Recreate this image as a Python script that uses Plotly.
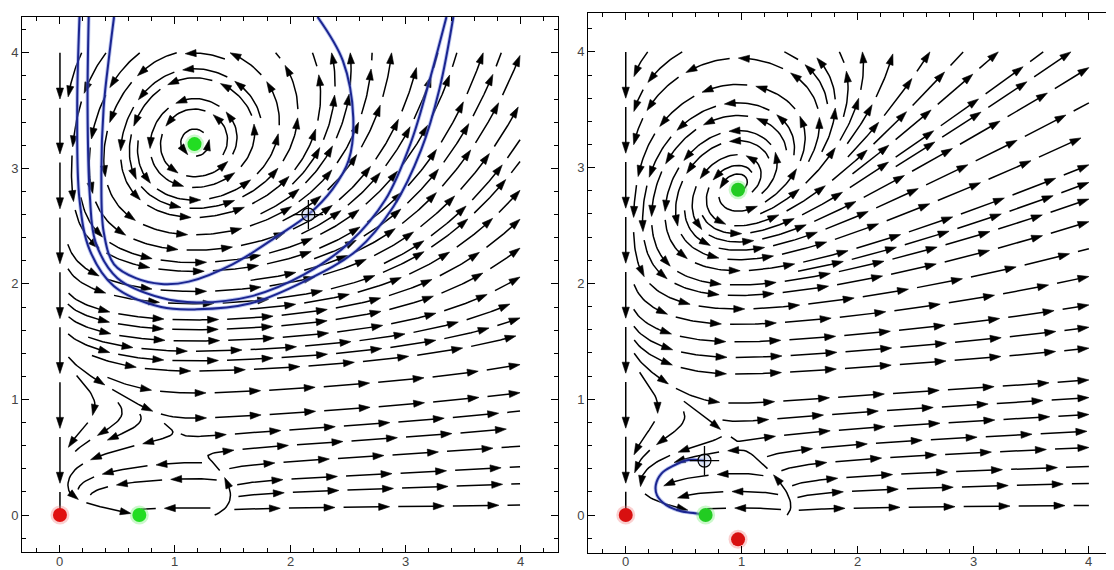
import math
import numpy as np
import plotly.graph_objects as go

# ---------------- values ----------------
tick_vals = [0, 1, 2, 3, 4]
tick_text = ["0", "1", "2", "3", "4"]

# equilibria
left_green_x = [0.69, 1.17]
left_green_y = [0.00, 3.21]
left_red_x = [0.00]
left_red_y = [0.00]
right_green_x = [0.69, 0.97]
right_green_y = [0.00, 2.81]
right_red_x = [0.00, 0.97]
right_red_y = [0.00, -0.21]

# starting points (cross-hair markers)
left_start_x = [2.16]
left_start_y = [2.60]
right_start_x = [0.68]
right_start_y = [0.47]

# highlighted (blue) trajectories
left_inner_x = [2.24, 2.46, 2.55, 2.51, 2.37, 2.16, 1.90, 1.50, 1.12, 0.88, 0.66, 0.47, 0.38, 0.36, 0.38, 0.43, 0.47]
left_inner_y = [4.31, 3.93, 3.44, 3.07, 2.82, 2.60, 2.42, 2.17, 2.02, 2.00, 2.05, 2.17, 2.45, 2.91, 3.53, 3.99, 4.31]
left_outer_a_x = [0.25, 0.24, 0.26, 0.31, 0.50, 0.88, 1.19, 1.65, 2.12, 2.52, 2.83, 3.05, 3.21, 3.36]
left_outer_a_y = [4.31, 3.53, 2.76, 2.36, 2.05, 1.88, 1.84, 1.89, 2.08, 2.36, 2.73, 3.22, 3.75, 4.31]
left_outer_b_x = [0.17, 0.15, 0.17, 0.26, 0.47, 0.88, 1.19, 1.65, 2.12, 2.58, 2.90, 3.14, 3.30, 3.42]
left_outer_b_y = [4.31, 3.53, 2.73, 2.29, 1.98, 1.80, 1.78, 1.83, 2.02, 2.29, 2.67, 3.16, 3.69, 4.31]
right_traj_x = [0.68, 0.54, 0.40, 0.31, 0.26, 0.27, 0.35, 0.47, 0.60, 0.69]
right_traj_y = [0.47, 0.475, 0.42, 0.36, 0.26, 0.17, 0.086, 0.035, 0.015, 0.0]

# parameters of the vector field shown in each panel
left_params = dict(r1=0.69, r2=1.35, a=4.04, b=1.925, c=3.105, lam=2.4, xc=1.17, yc=3.21,
                   gam=0.0, beta=0.35, beta_l=-0.25, kap=2.74, m=1.0, k=0.5, gg=0.2,
                   ys0=1.70, ys1=0.12, w=0.22)
right_params = dict(r1=0.69, r2=1.40, a=3.68, b=2.205, c=2.629, lam=2.2, xc=0.97, yc=2.81,
                    gam=0.5, beta=0.45, beta_l=0.1, kap=2.9, m=1.0, k=0.2, gg=0.2,
                    ys0=1.55, ys1=0.06, w=0.22)

stream_box = (0.0, 4.0, 0.0, 4.0)

# ---------------- stream plot machinery ----------------
DSEP = 0.135
DTEST = 0.068
STEP = 0.011
SEG_LEN = 0.40
SEG_GAP = 0.075
HEAD_LEN = 0.095
HEAD_HALF = 0.031


def make_field(p):
    def v(x, y):
        q = (x - p['r1']) * (x - p['r2'])
        f_low = p['lam'] * (q + y * (p['b'] * x - p['a']) + p['c'] * y * y)
        d = x - p['xc']
        bq = p['beta'] if d > 0 else p['beta_l']
        Y = p['yc'] + p['gam'] * d + bq * d * d
        f_high = p['kap'] * (Y - y)
        z = (y - (p['ys0'] - p['ys1'] * x)) / p['w']
        s = 1.0 / (1.0 + math.exp(-max(min(z, 50), -50)))
        F = (1 - s) * f_low + s * f_high
        if d > 0:
            g = d + p['k'] * d ** 3
        else:
            g = d * (x + p['gg']) / (p['xc'] + p['gg'])
        return x * F, p['m'] * y * g
    return v


class Grid:
    def __init__(self, cell):
        self.cell = cell
        self.d = {}

    def add(self, x, y, tag=0):
        key = (int(math.floor(x / self.cell)), int(math.floor(y / self.cell)))
        self.d.setdefault(key, []).append((x, y, tag))

    def near(self, x, y, r, cur=None, nself=0):
        cx = int(math.floor(x / self.cell))
        cy = int(math.floor(y / self.cell))
        n = int(math.ceil(r / self.cell))
        rr = r * r
        for i in range(cx - n, cx + n + 1):
            for j in range(cy - n, cy + n + 1):
                for (px, py, t) in self.d.get((i, j), ()):
                    if cur is not None and abs(t - cur) < nself:
                        continue
                    if (px - x) ** 2 + (py - y) ** 2 < rr:
                        return True
        return False


def stream_lines(v, eq_x, eq_y, box):
    x0b, x1b, y0b, y1b = box
    glob = Grid(DSEP)
    lines = []
    nself = int(2.2 * DTEST / STEP) + 3

    def direction(x, y, sg):
        vx, vy = v(x, y)
        n = math.hypot(vx, vy)
        if n < 1e-10:
            return None
        return sg * vx / n, sg * vy / n

    def near_eq(x, y):
        for ex, ey in zip(eq_x, eq_y):
            if (x - ex) ** 2 + (y - ey) ** 2 < 0.045 ** 2:
                return True
        return False

    def trace(xs, ys, sg, own):
        pts = []
        x, y = xs, ys
        for i in range(1, 4000):
            k1 = direction(x, y, sg)
            if k1 is None:
                break
            k2 = direction(x + 0.5 * STEP * k1[0], y + 0.5 * STEP * k1[1], sg)
            if k2 is None:
                break
            k3 = direction(x + 0.5 * STEP * k2[0], y + 0.5 * STEP * k2[1], sg)
            if k3 is None:
                break
            k4 = direction(x + STEP * k3[0], y + STEP * k3[1], sg)
            if k4 is None:
                break
            dx = STEP * (k1[0] + 2 * k2[0] + 2 * k3[0] + k4[0]) / 6
            dy = STEP * (k1[1] + 2 * k2[1] + 2 * k3[1] + k4[1]) / 6
            nx, ny = x + dx, y + dy
            if nx < x0b - 1e-9 or nx > x1b + 1e-9 or ny < y0b - 1e-9 or ny > y1b + 1e-9:
                t = 1.0
                if nx < x0b: t = min(t, (x0b - x) / dx)
                if nx > x1b: t = min(t, (x1b - x) / dx)
                if ny < y0b: t = min(t, (y0b - y) / dy)
                if ny > y1b: t = min(t, (y1b - y) / dy)
                pts.append((x + t * dx, y + t * dy))
                break
            if glob.near(nx, ny, DTEST):
                break
            if near_eq(nx, ny):
                break
            cur = sg * i
            if own.near(nx, ny, DTEST, cur=cur, nself=nself):
                break
            pts.append((nx, ny))
            own.add(nx, ny, cur)
            x, y = nx, ny
        return pts

    for sp in (0.5, 0.25, 0.125, 0.0625):
        xs_seed = np.arange(0.0, 4.0 + 1e-9, sp)
        ys_seed = np.arange(0.06, 4.0 + 1e-9, sp)
        for sy in ys_seed[::-1]:
            for sx in xs_seed:
                sx = float(sx); sy = float(sy)
                if glob.near(sx, sy, DSEP) or near_eq(sx, sy):
                    continue
                own = Grid(DSEP)
                own.add(sx, sy, 0)
                fw = trace(sx, sy, 1.0, own)
                bw = trace(sx, sy, -1.0, own)
                line = bw[::-1] + [(sx, sy)] + fw
                if len(line) * STEP < 0.14:
                    continue
                for (px, py) in line:
                    glob.add(px, py)
                lines.append(np.array(line))
    return lines


def pieces(lines):
    lx, ly, hx, hy = [], [], [], []
    for ln in lines:
        d = np.hypot(np.diff(ln[:, 0]), np.diff(ln[:, 1]))
        s = np.concatenate([[0.0], np.cumsum(d)])
        total = s[-1]

        def P(sv):
            return float(np.interp(sv, s, ln[:, 0])), float(np.interp(sv, s, ln[:, 1]))

        start = 0.0
        while start < total - 0.06:
            end = min(start + SEG_LEN, total)
            L = end - start
            has_head = L >= 0.2
            stop = end - HEAD_LEN * 0.8 if has_head else end
            mask = (s > start) & (s < stop)
            xs = [P(start)[0]] + list(ln[mask, 0]) + [P(stop)[0]]
            ys = [P(start)[1]] + list(ln[mask, 1]) + [P(stop)[1]]
            lx += xs[::2] + [xs[-1], None]
            ly += ys[::2] + [ys[-1], None]
            if has_head:
                tx, ty = P(end)
                bx, by = P(end - HEAD_LEN)
                ux, uy = tx - bx, ty - by
                n = math.hypot(ux, uy)
                if n > 1e-9:
                    ux, uy = ux / n, uy / n
                    bx, by = tx - ux * HEAD_LEN, ty - uy * HEAD_LEN
                    nx, ny = -uy, ux
                    hx += [tx, bx + nx * HEAD_HALF, bx - nx * HEAD_HALF, tx, None]
                    hy += [ty, by + ny * HEAD_HALF, by - ny * HEAD_HALF, ty, None]
            start = end + SEG_GAP
    return lx, ly, hx, hy


fig = go.Figure()


def add_panel(params, eqx, eqy, xa, ya):
    v = make_field(params)
    lines = stream_lines(v, eqx, eqy, stream_box)
    lx, ly, hx, hy = pieces(lines)
    fig.add_trace(go.Scatter(x=lx, y=ly, mode='lines', xaxis=xa, yaxis=ya,
                             line=dict(color='black', width=1.5), hoverinfo='skip', showlegend=False))
    fig.add_trace(go.Scatter(x=hx, y=hy, mode='lines', fill='toself', fillcolor='black', xaxis=xa, yaxis=ya,
                             line=dict(color='black', width=0.6), hoverinfo='skip', showlegend=False))


add_panel(left_params, left_green_x + left_red_x, left_green_y + left_red_y, 'x', 'y')
add_panel(right_params, right_green_x + right_red_x, right_green_y + right_red_y, 'x2', 'y2')


def blue(xv, yv, xa, ya):
    fig.add_trace(go.Scatter(x=xv, y=yv, mode='lines', xaxis=xa, yaxis=ya,
                             line=dict(color='rgba(120,140,225,0.5)', width=3.8, shape='spline'),
                             hoverinfo='skip', showlegend=False))
    fig.add_trace(go.Scatter(x=xv, y=yv, mode='lines', xaxis=xa, yaxis=ya,
                             line=dict(color='#1b2590', width=2.0, shape='spline'),
                             hoverinfo='skip', showlegend=False))


blue(left_outer_b_x, left_outer_b_y, 'x', 'y')
blue(left_outer_a_x, left_outer_a_y, 'x', 'y')
blue(left_inner_x, left_inner_y, 'x', 'y')
blue(right_traj_x, right_traj_y, 'x2', 'y2')


def dots(xv, yv, color, halo, xa, ya):
    fig.add_trace(go.Scatter(x=xv, y=yv, mode='markers', xaxis=xa, yaxis=ya,
                             marker=dict(size=19, color=halo, line=dict(width=0)),
                             hoverinfo='skip', showlegend=False))
    fig.add_trace(go.Scatter(x=xv, y=yv, mode='markers', xaxis=xa, yaxis=ya,
                             marker=dict(size=14, color=color, line=dict(width=0)),
                             hoverinfo='skip', showlegend=False))


def crosshair(xv, yv, xa, ya):
    fig.add_trace(go.Scatter(x=xv, y=yv, mode='markers', xaxis=xa, yaxis=ya,
                             marker=dict(size=13, symbol='circle', color='rgba(190,205,240,0.45)',
                                         line=dict(color='black', width=1.2)),
                             hoverinfo='skip', showlegend=False))
    fig.add_trace(go.Scatter(x=xv, y=yv, mode='markers', xaxis=xa, yaxis=ya,
                             marker=dict(size=21, symbol='cross-thin-open', color='black',
                                         line=dict(color='black', width=1.3)),
                             hoverinfo='skip', showlegend=False))


dots(left_red_x, left_red_y, '#e01010', 'rgba(240,120,120,0.35)', 'x', 'y')
dots(left_green_x, left_green_y, '#22dd22', 'rgba(140,240,140,0.45)', 'x', 'y')
dots(right_red_x, right_red_y, '#d81010', 'rgba(240,120,120,0.35)', 'x2', 'y2')
dots(right_green_x, right_green_y, '#22cc22', 'rgba(140,240,140,0.45)', 'x2', 'y2')
crosshair(left_start_x, left_start_y, 'x', 'y')
crosshair(right_start_x, right_start_y, 'x2', 'y2')

# the page adds an 8 px body margin, so the figure is 8 px smaller and shifted
OFF = 8
W, H = 1114 - OFF, 570 - OFF
FONT = dict(family='Liberation Sans, Arial, sans-serif', size=13, color='#444444')
minor = dict(tick0=0, dtick=0.2, ticks='inside', ticklen=4, tickcolor='black', tickwidth=1, showgrid=False)


def axis(domain, rng, anchor, mirror, labels=True):
    return dict(domain=domain, range=rng, anchor=anchor, tickmode='array', tickvals=tick_vals,
                ticktext=tick_text, ticks='inside', ticklen=7, tickwidth=1, tickcolor='black',
                showline=True, linecolor='black', linewidth=1, mirror=mirror, showgrid=False,
                zeroline=False, tickfont=FONT, minor=minor, fixedrange=True,
                showticklabels=labels)


def px_x(p):
    return (p - OFF) / W


def px_y(p):
    return (H - (p - OFF)) / H


annotations = []
for xref in ('x', 'x2'):
    for tv, tt in zip(tick_vals, tick_text):
        annotations.append(dict(x=tv, xref=xref, y=px_y(561), yref='paper', text=tt,
                                showarrow=False, xanchor='center', yanchor='middle', font=FONT))

fig.update_layout(
    width=W, height=H, margin=dict(l=0, r=0, t=0, b=0),
    paper_bgcolor='white', plot_bgcolor='white', showlegend=False,
    xaxis=axis([px_x(22), px_x(558)], [-0.33, 4.33], 'y', 'ticks', False),
    yaxis=axis([px_y(552), px_y(17)], [-0.32, 4.31], 'x', 'ticks'),
    xaxis2=axis([px_x(588), 1.0], [-0.326, 4.217], 'y2', 'ticks', False),
    yaxis2=axis([px_y(553), px_y(13)], [-0.328, 4.336], 'x2', False),
    annotations=annotations,
)

fig.write_html("out.html")
